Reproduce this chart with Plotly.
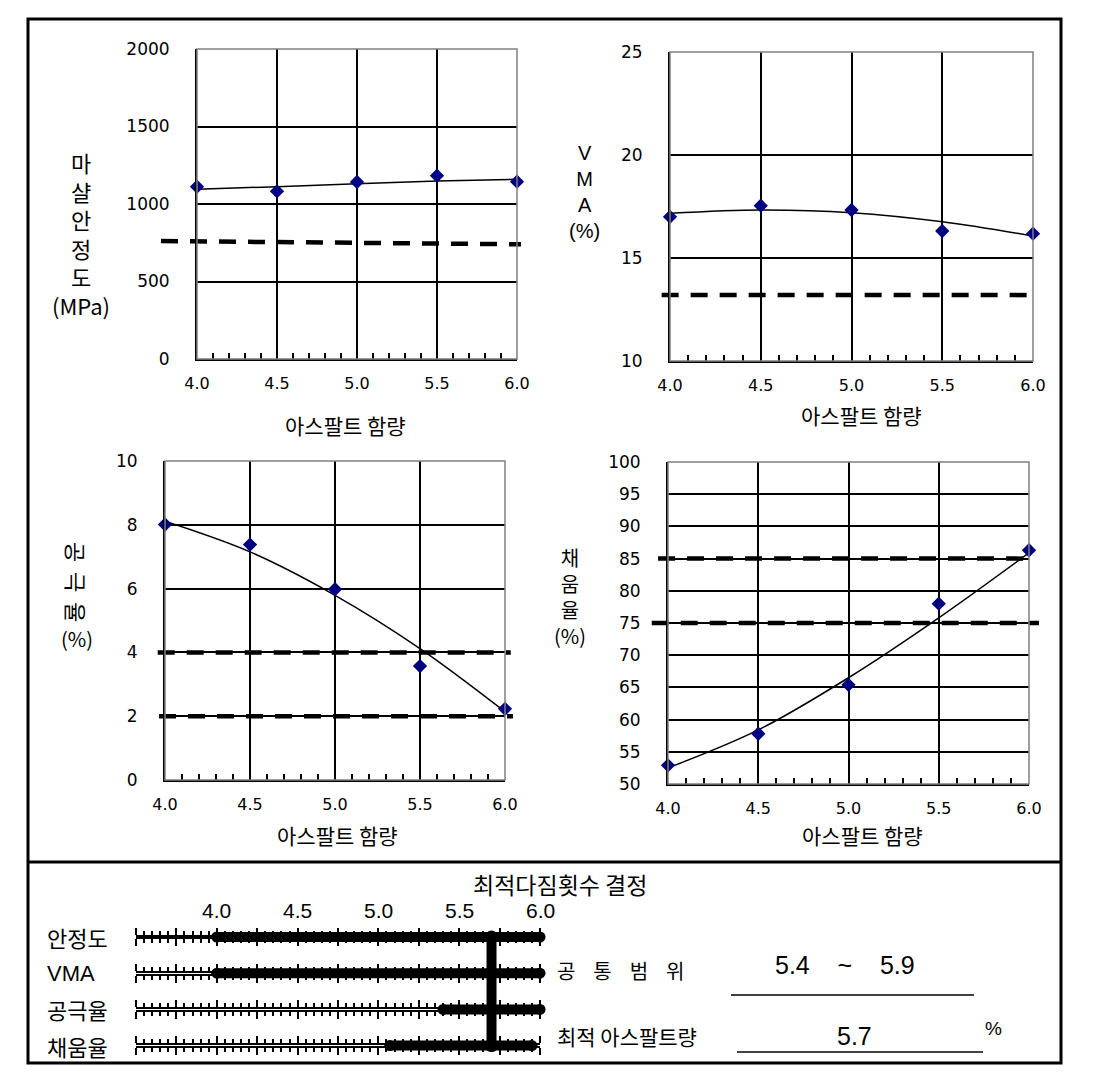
import plotly.graph_objects as go

W, H = 1117, 1077
PAD = 8                     # page body margin
FW, FH = W - 2 * PAD, H - 2 * PAD
KR = "Noto Sans CJK KR, sans-serif"
NUM = "DejaVu Sans, sans-serif"
ARIAL = "Liberation Sans, Arial, sans-serif"

# 아스팔트 함량 (%)
asphalt = [4.0, 4.5, 5.0, 5.5, 6.0]

# 마샬안정도 (MPa)
stability = [1112, 1082, 1142, 1183, 1144]
stability_fit = [1095, 1112, 1131, 1148, 1159]
stability_limit_x = [3.775, 6.025]
stability_limit = [761, 740]

# VMA (%)
vma = [17.0, 17.54, 17.33, 16.31, 16.18]
vma_fit = [17.17, 17.33, 17.2, 16.76, 16.07]
vma_limit_x = [3.954, 6.028]
vma_limit = [13.2, 13.2]

# 공극율 (%)
voids = [8.01, 7.38, 5.98, 3.57, 2.23]
voids_fit = [8.11, 7.15, 5.79, 4.12, 2.14]
voids_upper_x = [3.957, 6.034]
voids_upper = [4, 4]
voids_lower_x = [3.965, 6.047]
voids_lower = [2, 2]

# 채움율 (%)
vfa = [52.9, 57.8, 65.4, 78.0, 86.3]
vfa_fit = [52.5, 58.4, 66.5, 75.8, 85.9]
vfa_upper_x = [3.945, 6.022]
vfa_upper = [85, 85]
vfa_lower_x = [3.91, 6.055]
vfa_lower = [75, 75]

# 최적다짐횟수 결정
criteria = ["안정도", "VMA", "공극율", "채움율"]
range_lo = [4.0, 4.0, 5.4, 5.07]
range_hi = [6.0, 6.0, 6.0, 5.95]
optimum = 5.7
scale_labels = [4.0, 4.5, 5.0, 5.5, 6.0]
common_text = "5.4    ~    5.9"
optimum_text = "5.7"


def px(p):
    return (p - PAD) / FW


def py(p):
    return 1 - (p - PAD) / FH


# chart boxes in page pixels: (left, right), (top, bottom)
charts = [
    dict(px=(197, 517), py=(49, 359), yr=[0, 2000], dy=500,
         y=stability, fit=stability_fit, lims=[(stability_limit_x, stability_limit)]),
    dict(px=(670, 1033), py=(52, 361), yr=[10, 25], dy=5,
         y=vma, fit=vma_fit, lims=[(vma_limit_x, vma_limit)]),
    dict(px=(165, 505), py=(461, 780), yr=[0, 10], dy=2,
         y=voids, fit=voids_fit, lims=[(voids_upper_x, voids_upper), (voids_lower_x, voids_lower)]),
    dict(px=(668, 1029), py=(462, 784), yr=[50, 100], dy=5,
         y=vfa, fit=vfa_fit, lims=[(vfa_upper_x, vfa_upper), (vfa_lower_x, vfa_lower)]),
]

fig = go.Figure()
layout = {}
shapes = []
EXT = 50  # px, wider invisible axis so the dashed limits can run past the frame

for i, c in enumerate(charts):
    k = i + 1
    sx = "" if k == 1 else str(k)
    x0, x1 = c["px"]
    y0, y1 = c["py"]
    ppu = (x1 - x0) / 2.0
    layout["xaxis" + sx] = dict(
        domain=[px(x0), px(x1)], range=[4, 6], anchor="y" + sx, automargin=False,
        tickmode="linear", tick0=4, dtick=0.5, tickformat=".1f",
        showgrid=True, gridcolor="black", gridwidth=2,
        showline=True, linecolor="black", linewidth=2, ticks="",
        minor=dict(tickmode="linear", tick0=4, dtick=0.1, ticks="inside",
                   ticklen=6, tickwidth=2, tickcolor="black", showgrid=False),
        ticklabelstandoff=9, tickfont=dict(family=NUM, size=16, color="black"),
        zeroline=False,
    )
    layout["yaxis" + sx] = dict(
        domain=[py(y1), py(y0)], range=c["yr"], anchor="x" + sx, automargin=False,
        tickmode="linear", tick0=c["yr"][0], dtick=c["dy"],
        showgrid=True, gridcolor="black", gridwidth=2,
        showline=True, linecolor="black", linewidth=2, ticks="",
        ticklabelstandoff=22, tickfont=dict(family=NUM, size=17, color="black"),
        zeroline=False,
    )
    o = str(k + 4)
    layout["xaxis" + o] = dict(
        domain=[px(x0 - EXT), px(x1 + EXT)],
        range=[4 - EXT / ppu, 6 + EXT / ppu], anchor="y" + o, visible=False,
    )
    layout["yaxis" + o] = dict(
        domain=[py(y1), py(y0)], range=c["yr"], anchor="x" + o, visible=False,
    )
    shapes.append(dict(type="rect", xref="x%s domain" % sx, yref="y%s domain" % sx,
                       x0=0, x1=1, y0=0, y1=1, line=dict(color="#808080", width=1.5),
                       layer="above"))
    # fit curve
    fig.add_trace(go.Scatter(x=asphalt, y=c["fit"], mode="lines", xaxis="x" + sx, yaxis="y" + sx,
                             line=dict(color="black", width=1.5, shape="spline"), showlegend=False))
    # test points
    fig.add_trace(go.Scatter(x=asphalt, y=c["y"], mode="markers", xaxis="x" + sx, yaxis="y" + sx,
                             marker=dict(symbol="diamond", size=11, color="#000080",
                                         line=dict(width=0)),
                             showlegend=False, cliponaxis=False))
    # criteria lines
    for lx, ly in c["lims"]:
        fig.add_trace(go.Scatter(x=lx, y=ly, mode="lines", xaxis="x" + o, yaxis="y" + o,
                                 line=dict(color="black", width=4.5, dash="17px,12px"),
                                 showlegend=False))

# ---- 최적다짐횟수 결정 ruler ----
RX0, RX1 = 136, 540        # 3.5 .. 6.0
RT, UNIT = 918.9, 36.2     # row band top, row spacing
layout["xaxis9"] = dict(domain=[px(RX0), px(RX1)], range=[3.5, 6.0], anchor="y9", visible=False)
layout["yaxis9"] = dict(domain=[py(RT + 4 * UNIT), py(RT)], range=[3.5, -0.5],
                        anchor="x9", visible=False)

for i in range(4):
    cy = py(RT + (i + 0.5) * UNIT)
    ya = str(10 + i)
    layout["yaxis" + ya] = dict(domain=[cy - 0.0004, cy + 0.0004], range=[0, 1], visible=False,
                                anchor="x" + ya)
    for j, side in enumerate(["bottom", "top"]):
        xa = str(10 + i + 4 * j)
        layout["xaxis" + xa] = dict(
            domain=[px(RX0), px(RX1)], range=[3.5, 6.0], anchor="y" + ya, side=side,
            automargin=False, showline=True, linecolor="black", linewidth=2,
            tickmode="linear", tick0=3.5, dtick=0.25, ticks="outside", ticklen=7,
            tickwidth=2, tickcolor="black", showticklabels=False, showgrid=False, zeroline=False,
            minor=dict(tickmode="linear", tick0=3.5, dtick=0.05, ticks="outside", ticklen=4,
                       tickwidth=1.5, tickcolor="black", showgrid=False),
        )
        # empty trace so the ruler axis gets drawn
        fig.add_trace(go.Scatter(x=[None], y=[None], xaxis="x" + xa, yaxis="y" + ya,
                                 mode="lines", showlegend=False, hoverinfo="skip"))

for i in range(4):
    fig.add_trace(go.Scatter(x=[range_lo[i], range_hi[i]], y=[i, i], mode="lines+markers",
                             xaxis="x9", yaxis="y9", line=dict(color="black", width=10),
                             marker=dict(size=11, color="black", line=dict(width=0)),
                             showlegend=False, cliponaxis=False))
fig.add_trace(go.Scatter(x=[optimum, optimum], y=[0, 3], mode="lines+markers",
                         xaxis="x9", yaxis="y9", line=dict(color="black", width=10),
                         marker=dict(size=13, color="black", line=dict(width=0)),
                         showlegend=False, cliponaxis=False))

# ---- text ----
ann = []


def txt(x, y, text, size, family=KR, xanchor="center", angle=0, xref="paper"):
    ann.append(dict(x=x if xref != "paper" else px(x), y=py(y), xref=xref, yref="paper",
                    text=text, showarrow=False, xanchor=xanchor, yanchor="middle",
                    textangle=angle, font=dict(family=family, size=size, color="black")))


txt(81, 233, "마<br>샬<br>안<br>정<br>도<br>(MPa)", 22)
txt(584, 192, "V<br>M<br>A<br>(%)", 20, family=ARIAL)
txt(77, 582, "공&nbsp;&nbsp;극&nbsp;&nbsp;율", 22, angle=90)
txt(77, 638, "(%)", 20)
txt(570, 596, "채<br>움<br>율<br>(%)", 20)
for (xc, yc) in [(345, 425), (861, 415), (337, 835), (862, 835)]:
    txt(xc, yc, "아스팔트 함량", 21)

txt(560, 884, "최적다짐횟수 결정", 23)
for v in scale_labels:
    txt(v, 910, "%.1f" % v, 21, family=ARIAL, xref="x9")
for i, name in enumerate(criteria):
    txt(45, RT + (i + 0.5) * UNIT, name, 22, family=KR if name != "VMA" else ARIAL, xanchor="left")
txt(555, 970, "공&nbsp;&nbsp;&nbsp;&nbsp;통&nbsp;&nbsp;&nbsp;&nbsp;범&nbsp;&nbsp;&nbsp;&nbsp;위", 20, xanchor="left")
txt(845, 965, common_text.replace(" ", "&nbsp;"), 25, family=ARIAL)
txt(555, 1036, "최적 아스팔트량", 21, xanchor="left")
txt(854, 1036, optimum_text, 25, family=ARIAL)
txt(993, 1028, "%", 19, family=ARIAL)

# frame, divider, underlines
shapes += [
    dict(type="rect", xref="paper", yref="paper", x0=px(28), x1=px(1061), y0=py(1063), y1=py(19),
         line=dict(color="black", width=3)),
    dict(type="line", xref="paper", yref="paper", x0=px(28), x1=px(1061), y0=py(862), y1=py(862),
         line=dict(color="black", width=3)),
    dict(type="line", xref="paper", yref="paper", x0=px(731), x1=px(974), y0=py(995), y1=py(995),
         line=dict(color="black", width=1.5)),
    dict(type="line", xref="paper", yref="paper", x0=px(737), x1=px(983), y0=py(1052), y1=py(1052),
         line=dict(color="black", width=1.5)),
]

fig.update_layout(
    template="none",
    width=FW, height=FH, margin=dict(l=0, r=0, t=0, b=0, pad=0),
    paper_bgcolor="white", plot_bgcolor="rgba(0,0,0,0)",
    showlegend=False, shapes=shapes, annotations=ann,
    **layout,
)

fig.write_html("out.html")
